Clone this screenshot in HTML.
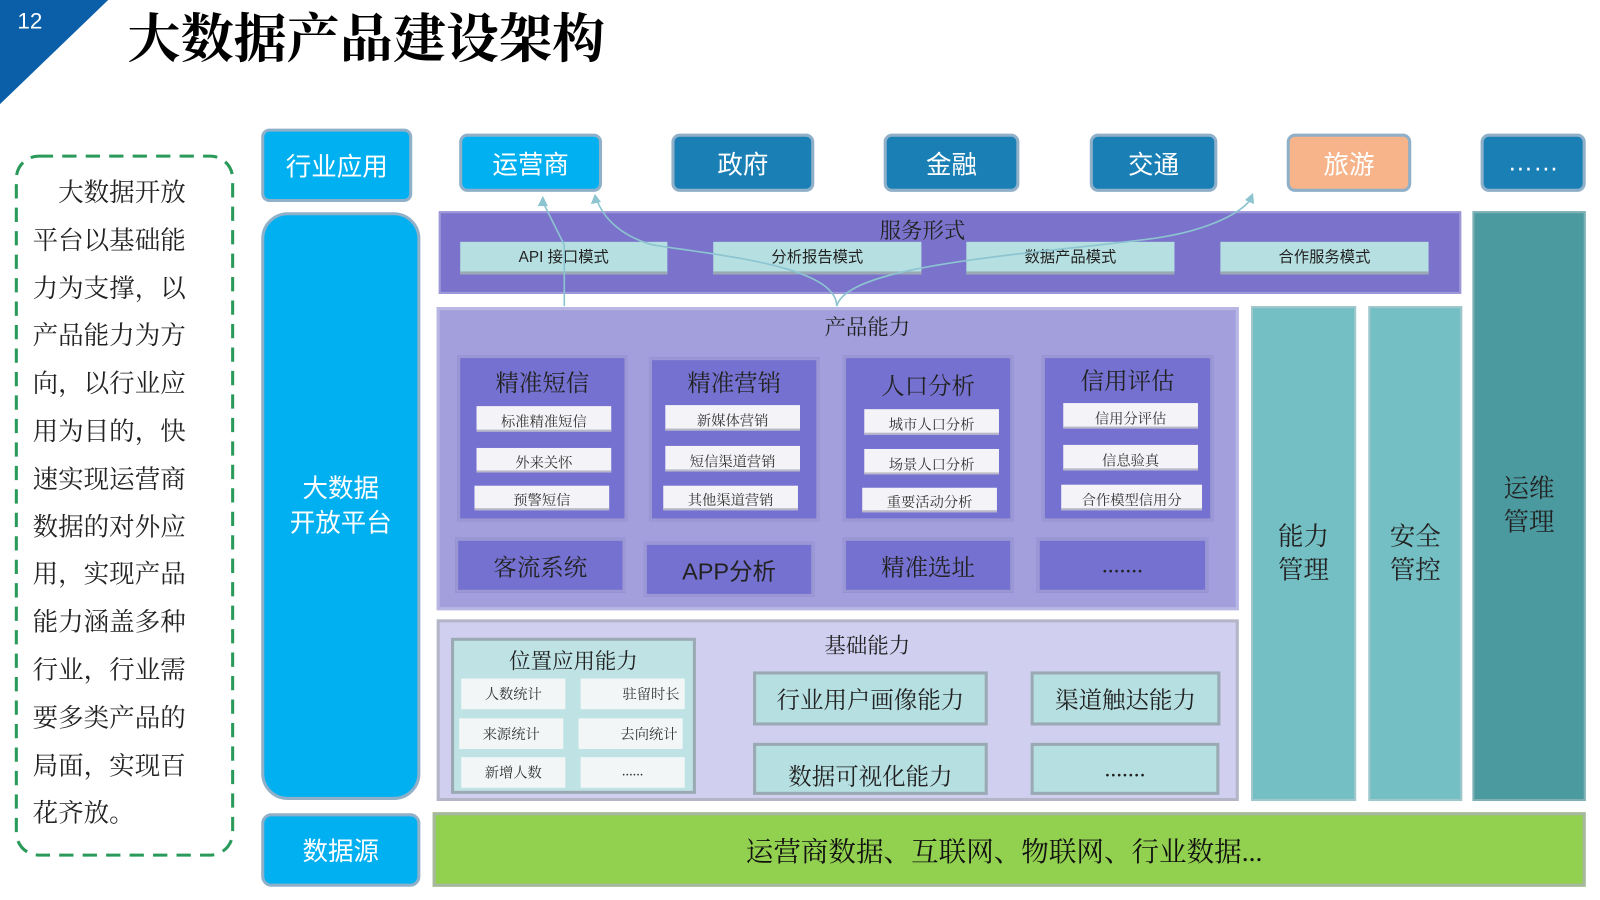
<!DOCTYPE html>
<html><head><meta charset="utf-8"><style>
html,body{margin:0;padding:0;background:#fff;overflow:hidden}
#w{position:absolute;left:0;top:0;width:1568px;height:882px;transform:scale(1.0204);transform-origin:0 0;font-family:"Liberation Serif","Noto Serif CJK SC","Noto Sans CJK SC",serif}
.b{position:absolute;box-sizing:border-box;display:flex;align-items:center;justify-content:center;text-align:center}
.s{font-family:"Liberation Sans","Noto Sans CJK SC",sans-serif}
.top{border-radius:8px;color:#fff;font-size:25px;border:3px solid #8fb0c8}
.pur{background:#7571d0;border:3px solid #9a97d4;color:#222;font-size:23px}
.w{background:#f4f4f8;color:#333;font-size:14px;border-bottom:2px solid #b8b8c8;padding-top:6px}
.tl{background:#b6dfe1;border:3px solid #9aa9b4;color:#222;font-size:23px}
.lw{background:#f2f6f6;color:#333;font-size:14px}
.t{position:absolute;font-size:21px;color:#222;white-space:nowrap}
</style></head><body><div id="w">
<svg style="position:absolute;left:0;top:0" width="1568" height="882">
<polygon points="0,0 106,0 0,102" fill="#0b5fa8"/>
<rect x="16" y="153" width="212" height="685" rx="22" fill="none" stroke="#2a9a5a" stroke-width="3" stroke-dasharray="14,9"/>
</svg>
<div style="position:absolute;left:17px;top:8px;color:#fff;font-size:22px" class="s">12</div>
<div style="position:absolute;left:125px;top:-4px;font-size:52px;color:#000;font-weight:bold;font-family:'Noto Serif CJK SC',serif">大数据产品建设架构</div>
<div style="position:absolute;left:32px;top:167px;font-size:25px;line-height:46.8px;color:#222;white-space:nowrap">　大数据开放<br>平台以基础能<br>力为支撑，以<br>产品能力为方<br>向，以行业应<br>用为目的，快<br>速实现运营商<br>数据的对外应<br>用，实现产品<br>能力涵盖多种<br>行业，行业需<br>要多类产品的<br>局面，实现百<br>花齐放。</div>

<div class="b top s" style="left:256px;top:126px;width:148px;height:72px;background:#00b0f0">行业应用</div>
<div class="b top s" style="left:256px;top:208px;width:156px;height:576px;background:#00b0f0;border-radius:26px;line-height:34px">大数据<br>开放平台</div>
<div class="b top s" style="left:256px;top:797px;width:156px;height:72px;background:#00b0f0;border-radius:10px">数据源</div>

<div class="b top s" style="left:450px;top:131px;width:140px;height:57px;background:#00b0f0">运营商</div>
<div class="b top s" style="left:658px;top:131px;width:140px;height:57px;background:#1a7fb5">政府</div>
<div class="b top s" style="left:866px;top:131px;width:133px;height:57px;background:#1a7fb5">金融</div>
<div class="b top s" style="left:1068px;top:131px;width:125px;height:57px;background:#1a7fb5">交通</div>
<div class="b top s" style="left:1261px;top:131px;width:122px;height:57px;background:#f7b48a">旅游</div>
<div class="b top s" style="left:1451px;top:131px;width:103px;height:57px;background:#1a7fb5">……</div>

<div class="b" style="left:430px;top:207px;width:1002px;height:81px;background:#7b72cc;border:2px solid #9d98d8"></div>
<div class="t" style="left:862px;top:210px">服务形式</div>
<div class="b tl s" style="left:451px;top:237px;width:203px;height:32px;font-size:15px;border-width:0 0 3px 0">API 接口模式</div>
<div class="b tl s" style="left:699px;top:237px;width:204px;height:32px;font-size:15px;border-width:0 0 3px 0">分析报告模式</div>
<div class="b tl s" style="left:947px;top:237px;width:204px;height:32px;font-size:15px;border-width:0 0 3px 0">数据产品模式</div>
<div class="b tl s" style="left:1196px;top:237px;width:204px;height:32px;font-size:15px;border-width:0 0 3px 0">合作服务模式</div>

<div class="b" style="left:428px;top:301px;width:786px;height:297px;background:#a29fdc;border:3px solid #b8b6e2"></div>
<div class="t" style="left:808px;top:305px">产品能力</div>
<div class="b pur" style="left:448px;top:348px;width:167px;height:163px;align-items:flex-start;padding-top:6px">精准短信</div>
<div class="b pur" style="left:636px;top:350px;width:167px;height:161px;align-items:flex-start;padding-top:4px">精准营销</div>
<div class="b pur" style="left:826px;top:348px;width:167px;height:163px;align-items:flex-start;padding-top:9px">人口分析</div>
<div class="b pur" style="left:1021px;top:348px;width:168px;height:163px;align-items:flex-start;padding-top:4px">信用评估</div>
<div class="b w" style="left:467px;top:398px;width:132px;height:25px">标准精准短信</div>
<div class="b w" style="left:467px;top:439px;width:132px;height:24px">外来关怀</div>
<div class="b w" style="left:465px;top:476px;width:132px;height:24px">预警短信</div>
<div class="b w" style="left:652px;top:397px;width:132px;height:25px">新媒体营销</div>
<div class="b w" style="left:652px;top:437px;width:132px;height:25px">短信渠道营销</div>
<div class="b w" style="left:650px;top:476px;width:132px;height:24px">其他渠道营销</div>
<div class="b w" style="left:847px;top:401px;width:132px;height:25px">城市人口分析</div>
<div class="b w" style="left:847px;top:440px;width:132px;height:25px">场景人口分析</div>
<div class="b w" style="left:845px;top:478px;width:132px;height:24px">重要活动分析</div>
<div class="b w" style="left:1042px;top:395px;width:132px;height:25px">信用分评估</div>
<div class="b w" style="left:1042px;top:436px;width:132px;height:25px">信息验真</div>
<div class="b w" style="left:1040px;top:475px;width:138px;height:25px">合作模型信用分</div>
<div class="b pur" style="left:446px;top:527px;width:167px;height:54px">客流系统</div>
<div class="b pur s" style="left:631px;top:531px;width:167px;height:54px">APP分析</div>
<div class="b pur" style="left:826px;top:527px;width:167px;height:54px">精准选址</div>
<div class="b pur" style="left:1016px;top:527px;width:168px;height:54px">.......</div>

<div class="b" style="left:428px;top:607px;width:786px;height:178px;background:#d1cff0;border:3px solid #b4b6c8"></div>
<div class="t" style="left:808px;top:617px">基础能力</div>
<div class="b tl" style="left:442px;top:625px;width:240px;height:153px;align-items:flex-start;padding-top:4px;font-size:21px;background:#bfe3e5">位置应用能力</div>
<div class="b lw" style="left:452px;top:665px;width:102px;height:30px">人数统计</div>
<div class="b lw" style="left:569px;top:665px;width:102px;height:30px;justify-content:flex-end;padding-right:5px">驻留时长</div>
<div class="b lw" style="left:450px;top:704px;width:102px;height:30px">来源统计</div>
<div class="b lw" style="left:567px;top:704px;width:102px;height:30px;justify-content:flex-end;padding-right:5px">去向统计</div>
<div class="b lw" style="left:452px;top:742px;width:102px;height:30px">新增人数</div>
<div class="b lw" style="left:569px;top:742px;width:102px;height:30px">......</div>
<div class="b tl" style="left:738px;top:658px;width:230px;height:53px">行业用户画像能力</div>
<div class="b tl" style="left:1010px;top:658px;width:186px;height:53px">渠道触达能力</div>
<div class="b tl" style="left:738px;top:728px;width:230px;height:51px;padding-top:12px">数据可视化能力</div>
<div class="b tl" style="left:1010px;top:728px;width:185px;height:51px">.......</div>

<div class="b" style="left:1226px;top:300px;width:103px;height:485px;background:#74bfc4;border:2px solid #a0c8cc;font-size:25px;color:#222;line-height:33px">能力<br>管理</div>
<div class="b" style="left:1341px;top:300px;width:92px;height:485px;background:#74bfc4;border:2px solid #a0c8cc;font-size:25px;color:#222;line-height:33px">安全<br>管控</div>
<div class="b" style="left:1443px;top:207px;width:111px;height:578px;background:#4a9aa0;border:2px solid #7fb0b4;font-size:25px;color:#222;line-height:33px">运维<br>管理</div>

<div class="b" style="left:424px;top:796px;width:1130px;height:73px;background:#92d050;border:3px solid #a8b8a0;font-size:27px;color:#111;padding-right:10px">运营商数据、互联网、物联网、行业数据...</div>

<svg style="position:absolute;left:0;top:0" width="1568" height="882">
<g fill="none" stroke="#8cc4d0" stroke-width="1.6">
<path d="M553,300 L553,240 L532,198"/>
<path d="M820,300 C820,260 700,250 640,240 C610,232 592,215 585,196"/>
<path d="M820,300 C830,260 1000,250 1120,235 C1180,228 1215,210 1226,195"/>
</g>
<g fill="#8cc4d0"><polygon points="532,192 527,202 537,202"/><polygon points="583,190 579,200 589,198"/><polygon points="1228,189 1220,196 1229,200"/></g>
</svg>
</div></body></html>
